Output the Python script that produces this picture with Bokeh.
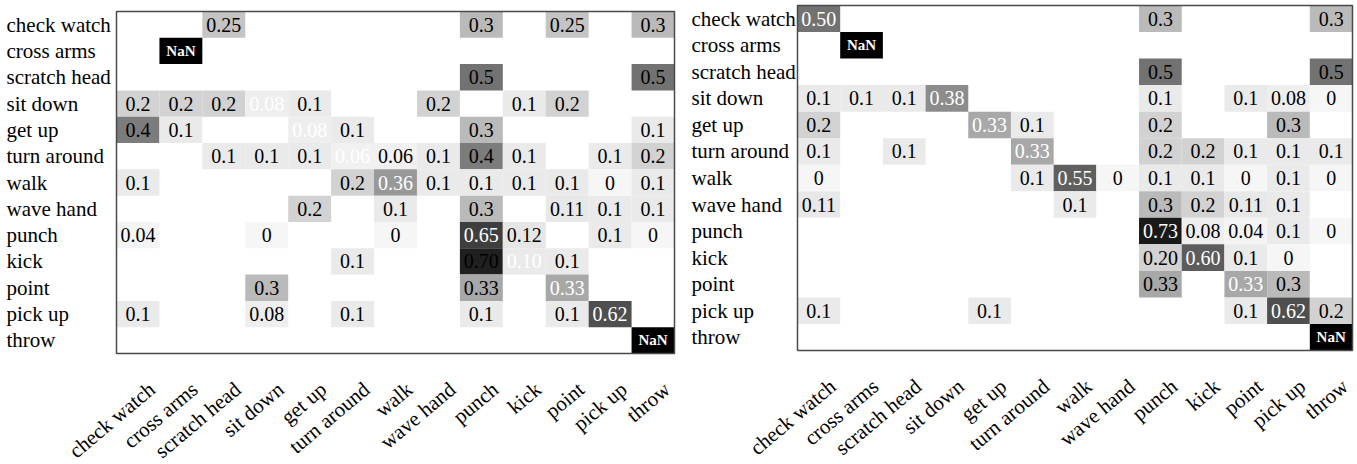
import math
import numpy as np
from bokeh.plotting import figure
from bokeh.models import ColumnDataSource, LinearColorMapper, Range1d, BoxAnnotation
from bokeh.layouts import row
from bokeh.embed import file_html
from bokeh.resources import INLINE
from bokeh.core.properties import value

actions = ["check watch", "cross arms", "scratch head", "sit down", "get up",
           "turn around", "walk", "wave hand", "punch", "kick", "point",
           "pick up", "throw"]

# rows = true class (in the order of `actions`), columns = predicted class
left_matrix = [
    ["", "", "0.25", "", "", "", "", "", "0.3", "", "0.25", "", "0.3"],
    ["", "NaN", "", "", "", "", "", "", "", "", "", "", ""],
    ["", "", "", "", "", "", "", "", "0.5", "", "", "", "0.5"],
    ["0.2", "0.2", "0.2", "0.08", "0.1", "", "", "0.2", "", "0.1", "0.2", "", ""],
    ["0.4", "0.1", "", "", "0.08", "0.1", "", "", "0.3", "", "", "", "0.1"],
    ["", "", "0.1", "0.1", "0.1", "0.06", "0.06", "0.1", "0.4", "0.1", "", "0.1", "0.2"],
    ["0.1", "", "", "", "", "0.2", "0.36", "0.1", "0.1", "0.1", "0.1", "0", "0.1"],
    ["", "", "", "", "0.2", "", "0.1", "", "0.3", "", "0.11", "0.1", "0.1"],
    ["0.04", "", "", "0", "", "", "0", "", "0.65", "0.12", "", "0.1", "0"],
    ["", "", "", "", "", "0.1", "", "", "0.70", "0.10", "0.1", "", ""],
    ["", "", "", "0.3", "", "", "", "", "0.33", "", "0.33", "", ""],
    ["0.1", "", "", "0.08", "", "0.1", "", "", "0.1", "", "0.1", "0.62", ""],
    ["", "", "", "", "", "", "", "", "", "", "", "", "NaN"],
]

right_matrix = [
    ["0.50", "", "", "", "", "", "", "", "0.3", "", "", "", "0.3"],
    ["", "NaN", "", "", "", "", "", "", "", "", "", "", ""],
    ["", "", "", "", "", "", "", "", "0.5", "", "", "", "0.5"],
    ["0.1", "0.1", "0.1", "0.38", "", "", "", "", "0.1", "", "0.1", "0.08", "0"],
    ["0.2", "", "", "", "0.33", "0.1", "", "", "0.2", "", "", "0.3", ""],
    ["0.1", "", "0.1", "", "", "0.33", "", "", "0.2", "0.2", "0.1", "0.1", "0.1"],
    ["0", "", "", "", "", "0.1", "0.55", "0", "0.1", "0.1", "0", "0.1", "0"],
    ["0.11", "", "", "", "", "", "0.1", "", "0.3", "0.2", "0.11", "0.1", ""],
    ["", "", "", "", "", "", "", "", "0.73", "0.08", "0.04", "0.1", "0"],
    ["", "", "", "", "", "", "", "", "0.20", "0.60", "0.1", "0", ""],
    ["", "", "", "", "", "", "", "", "0.33", "", "0.33", "0.3", ""],
    ["0.1", "", "", "", "0.1", "", "", "", "", "", "0.1", "0.62", "0.2"],
    ["", "", "", "", "", "", "", "", "", "", "", "", "NaN"],
]

# grayscale palette (style): value -> gray level
anchor_v = [0.0, 0.04, 0.06, 0.08, 0.1, 0.12, 0.2, 0.25, 0.3, 0.33, 0.36, 0.38,
            0.4, 0.5, 0.55, 0.6, 0.62, 0.65, 0.7, 0.73, 0.75]
anchor_g = [246, 244, 241, 238, 234, 230, 210, 196, 186, 168, 152, 140,
            124, 114, 95, 92, 80, 62, 32, 26, 24]
levels = np.interp(np.linspace(0, 0.75, 256), anchor_v, anchor_g)
palette = ["#%02x%02x%02x" % (int(g), int(g), int(g)) for g in levels]

FONT = "Liberation Serif"
FS = "20px"       # cell values
LFS = "21px"      # category labels


def build(matrix, W, H, left, top, fw, fh, label_px):
    n = len(actions)
    cw = fw / n          # pixels per category (x)
    rh = fh / n          # pixels per category (y)

    xs, ys, vals, texts, tcol = [], [], [], [], []
    nx, ny = [], []
    for i, r in enumerate(matrix):
        for j, s in enumerate(r):
            if s == "":
                continue
            if s == "NaN":
                nx.append(j + 0.5); ny.append(i + 0.5)
                continue
            xs.append(j + 0.5); ys.append(i + 0.5)
            vals.append(float(s)); texts.append(s)
            tcol.append("white" if i == j else "black")
    src = ColumnDataSource(dict(x=xs, y=ys, v=vals, t=texts, c=tcol))
    nsrc = ColumnDataSource(dict(x=nx, y=ny, t=["NaN"] * len(nx)))

    p = figure(width=W, height=H,
               x_range=Range1d(-left / cw, (W - left) / cw),
               y_range=Range1d((H - top) / rh, -top / rh),
               min_border=0, x_axis_location=None, y_axis_location=None,
               output_backend="svg", toolbar_location=None)
    p.grid.visible = False
    p.outline_line_color = None
    p.background_fill_color = "white"
    p.border_fill_color = "white"

    mapper = LinearColorMapper(palette=palette, low=0, high=0.75, nan_color="black")
    p.rect(x="x", y="y", width=1, height=1, source=src,
           fill_color={"field": "v", "transform": mapper}, line_color=None)
    p.rect(x="x", y="y", width=1, height=1, source=nsrc,
           fill_color="black", line_color=None)
    p.text(x="x", y="y", text="t", source=src, text_color="c",
           text_align="center", text_baseline="middle",
           text_font=value(FONT), text_font_size=FS)
    p.text(x="x", y="y", text="t", source=nsrc, text_color="white",
           text_align="center", text_baseline="middle",
           text_font=value(FONT), text_font_size="15px", text_font_style="bold")

    # matrix border
    p.add_layout(BoxAnnotation(left=0, right=n, top=0, bottom=n, fill_alpha=0,
                               line_color="#4a4a4a", line_width=1.5, line_alpha=1))

    # row labels (left-aligned, outside the matrix)
    lab = ColumnDataSource(dict(
        x=[(label_px - left) / cw] * n,
        y=[i + 0.5 for i in range(n)],
        t=actions))
    p.text(x="x", y="y", text="t", source=lab, text_align="left",
           text_baseline="middle", text_font=value(FONT), text_font_size=LFS,
           text_color="black")

    # column labels (rotated, below the matrix)
    clab = ColumnDataSource(dict(
        x=[j + 0.5 for j in range(n)],
        y=[n + 33 / rh] * n,
        t=actions))
    p.text(x="x", y="y", text="t", source=clab, x_offset=14,
           angle=math.radians(40), text_align="right", text_baseline="middle",
           text_font=value(FONT), text_font_size=LFS, text_color="black")
    return p


p1 = build(left_matrix, 690, 462, 116, 11, 558, 342, 6)
p2 = build(right_matrix, 665, 462, 107, 5, 555, 345, 1)
layout = row(p1, p2)
open("out.html", "w").write(file_html(layout, INLINE))
